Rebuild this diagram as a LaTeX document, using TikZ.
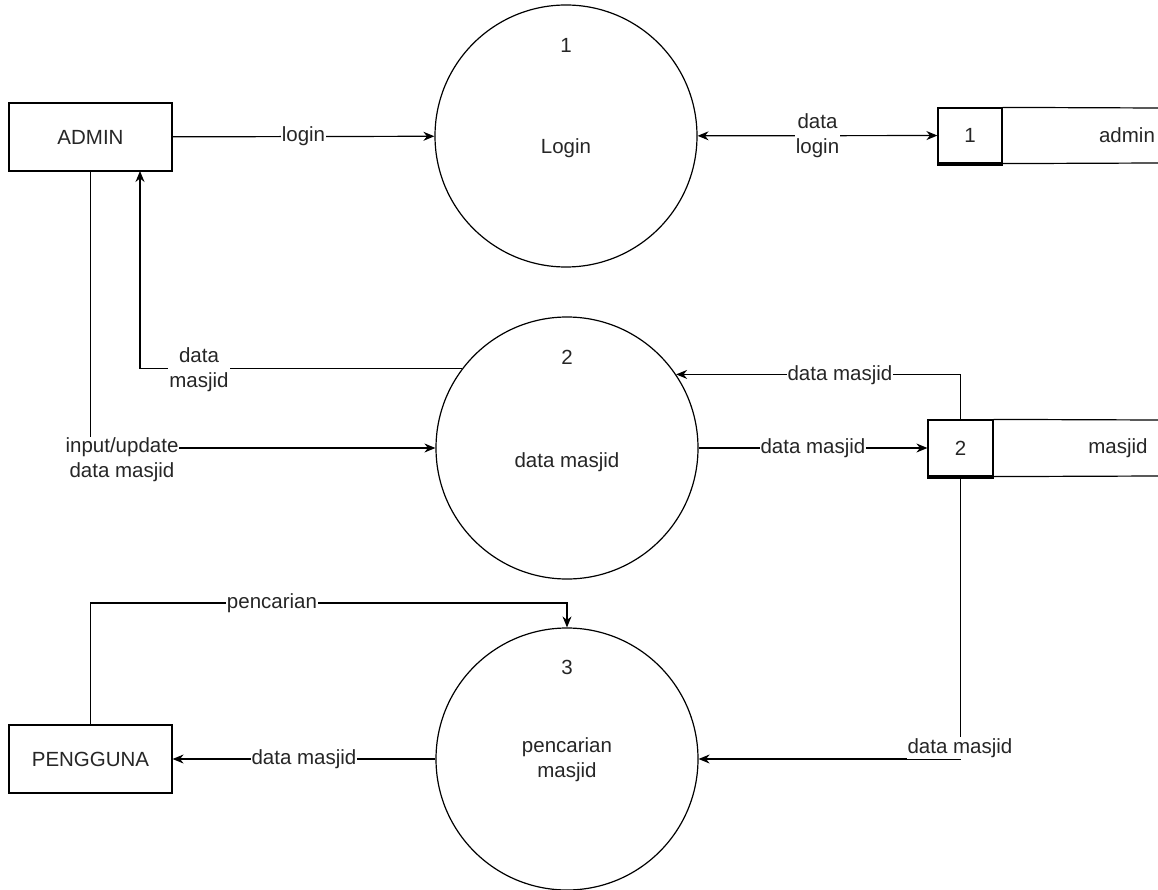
\documentclass[tikz,border=0pt]{standalone}
\usepackage{fontspec}
\setmainfont{Liberation Sans}
\usetikzlibrary{arrows.meta}
\begin{document}
\begin{tikzpicture}[x=1pt,y=-1pt,
  every node/.style={font=\fontsize{20.5}{25}\selectfont, text=black!85},
  ln/.style={line width=1.2pt},
  arr/.style={ln,-{Stealth[length=11pt,width=9pt]}},
  darr/.style={ln,{Stealth[length=11pt,width=9pt]}-{Stealth[length=11pt,width=9pt]}},
  proc/.style={draw,ln,circle,minimum size=262pt,inner sep=0pt},
  ent/.style={draw,ln,rectangle,minimum width=163pt,minimum height=68pt,inner sep=0pt},
  numbox/.style={draw,ln,rectangle,inner sep=0pt},
  lbl/.style={fill=white,inner sep=1pt,align=center},
  txt/.style={inner sep=0pt,align=center}]
\useasboundingbox (0,0) rectangle (1158,890);
\fill[white] (0,0) rectangle (1158,890);

% processes
\node[proc] (p1) at (566,136) {};
\node[proc] (p2) at (567,448) {};
\node[proc] (p3) at (567,759) {};
\node[txt] (p1n) at (566,45) {1};
\node[txt] (p1t) at (566,148) {Login};
\node[txt] (p2n) at (567,357) {2};
\node[txt] (p2t) at (567,462) {data masjid};
\node[txt] (p3n) at (567,667) {3};
\node[txt] (p3t) at (567,760) {pencarian\\masjid};

% entities
\node[ent] (admin) at (90.5,137) {ADMIN};
\node[ent] (peng) at (90.5,759) {PENGGUNA};

% data stores
\node[numbox,minimum width=64pt,minimum height=55pt] (s1) at (970,135.5) {1};
\draw[ln] (s1.north east) -- (1158,108);
\draw[ln] (s1.south east) -- (1158,163);
\draw[line width=2.6pt] ([yshift=-0.7pt]s1.south west) -- ([yshift=-0.7pt]s1.south east);
\node[txt] (s1t) at (1127,135) {admin};

\node[numbox,minimum width=65pt,minimum height=56pt] (s2) at (960.5,448) {2};
\draw[ln] (s2.north east) -- (1158,420);
\draw[ln] (s2.south east) -- (1158,476);
\draw[line width=2.6pt] ([yshift=-0.7pt]s2.south west) -- ([yshift=-0.7pt]s2.south east);
\node[txt] (s2t) at (1118,448) {masjid};

% flows
\draw[arr] (admin) -- node[lbl] (l1) {login} (p1);
\draw[darr] (p1) -- node[lbl] (l2) {data\\login} (s1);

\draw[arr] (admin.south) |- (p2.west);
\node[lbl] (l3) at (122,460) {input/update\\data masjid};

\coordinate (a2) at (140,171);
\draw[arr] (p2.143.4) -| (a2);
\node[lbl] (l4) at (199,370) {data\\masjid};

\draw[arr] (s2.north) |- (p2.34);
\node[lbl] (l5) at (840,375) {data masjid};

\draw[arr] (p2) -- node[lbl] (l6) {data masjid} (s2);

\draw[arr] (s2.south) |- (p3.east);
\node[lbl] (l7) at (960,748) {data masjid};

\draw[arr] (p3) -- node[lbl] (l8) {data masjid} (peng);

\coordinate (c3) at (567,603);
\draw[arr] (peng.north) |- (c3) -- (p3.north);
\node[lbl] (l9) at (272,603) {pencarian};
\end{tikzpicture}
\end{document}
